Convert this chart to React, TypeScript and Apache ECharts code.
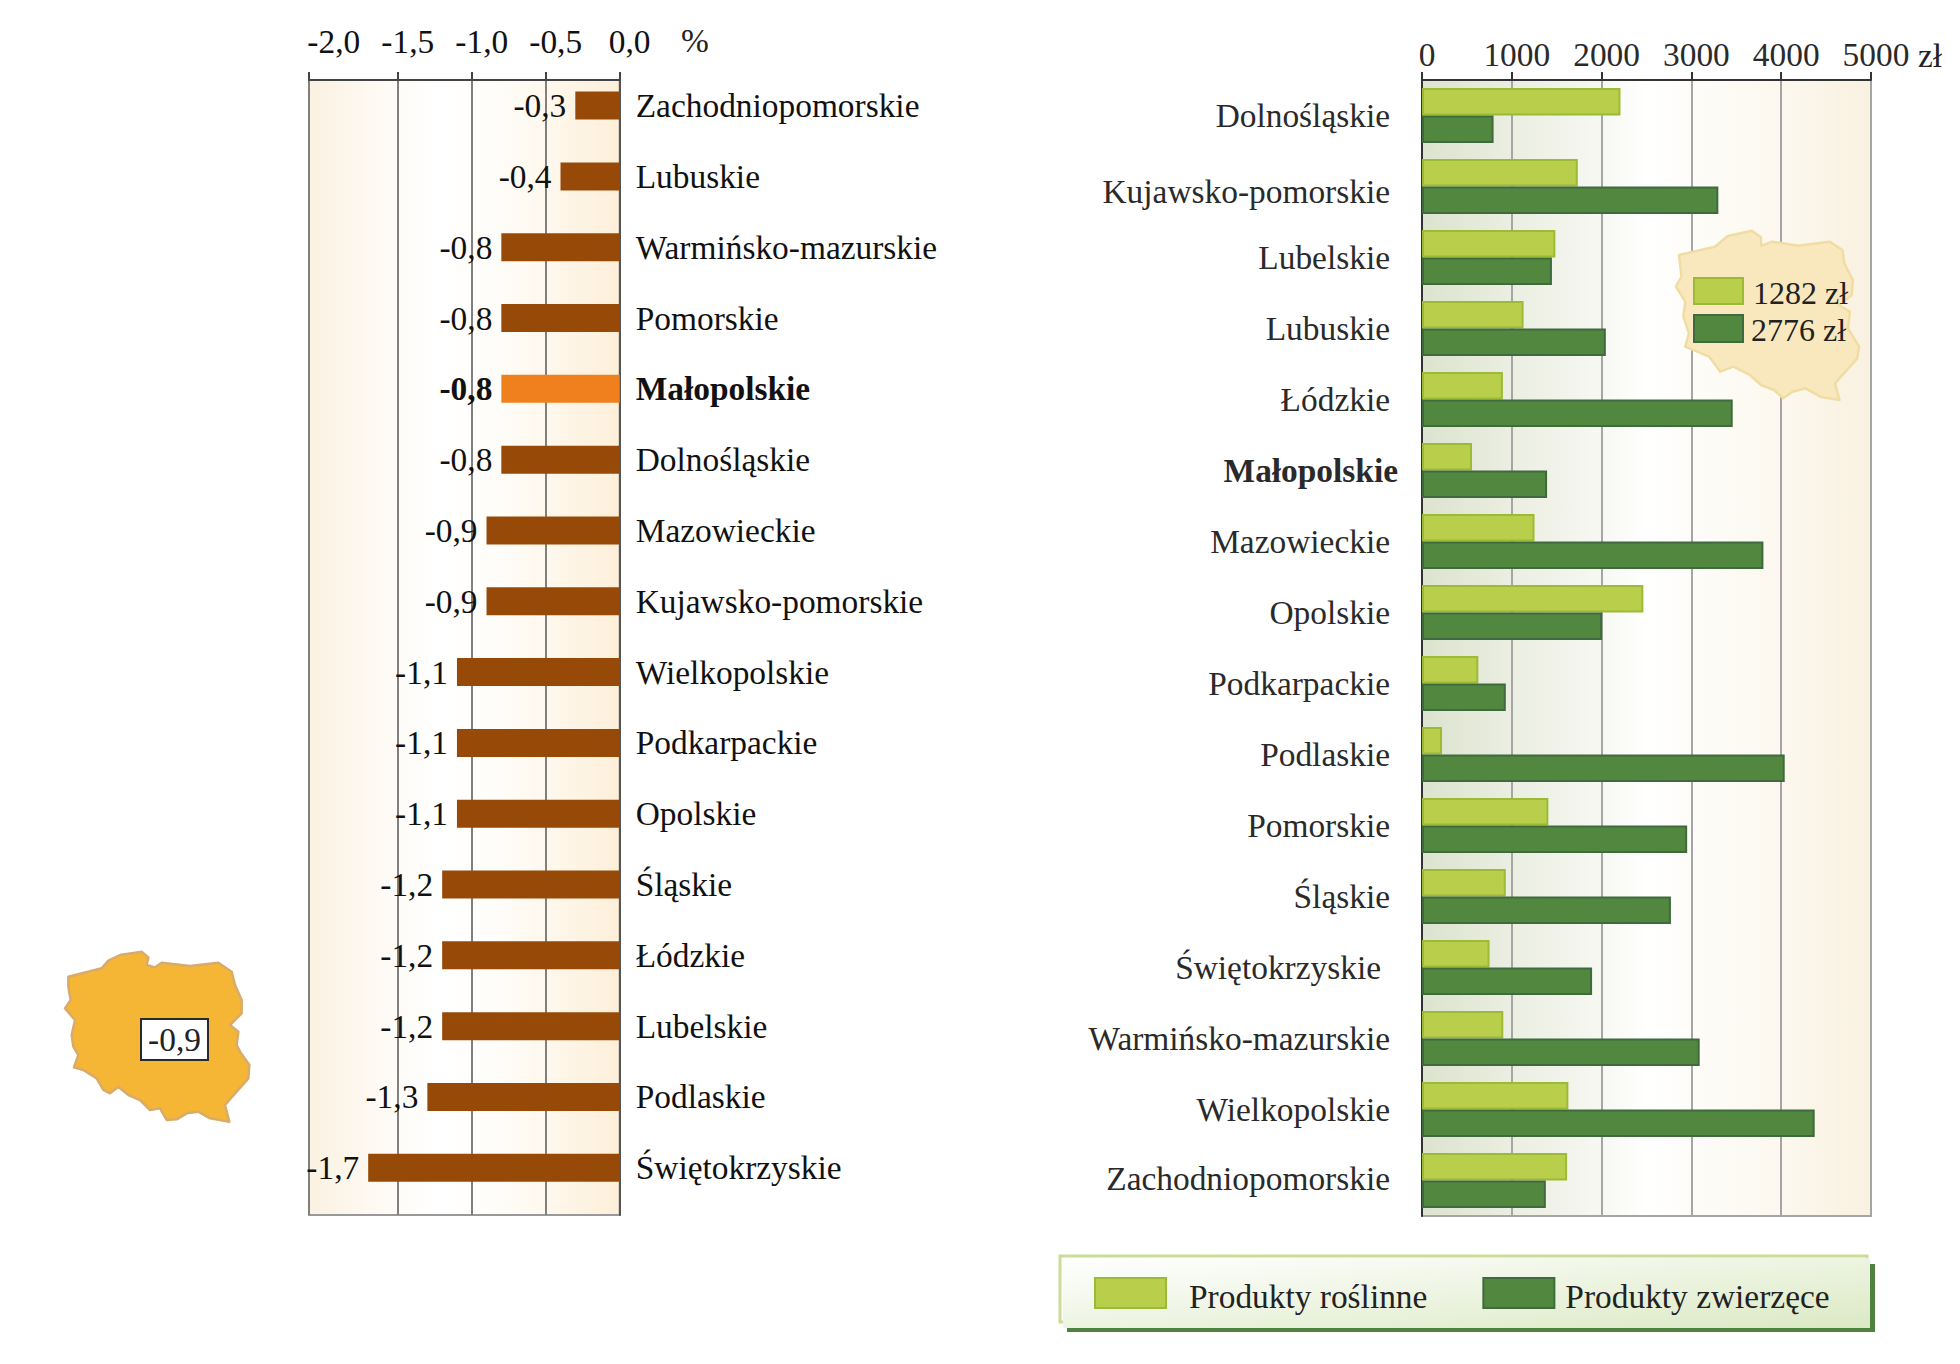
import React, { useEffect, useRef } from "react";
import * as echarts from "echarts";

const SERIF = "'Liberation Serif', 'Times New Roman', serif";

const changeRegions = ["Zachodniopomorskie","Lubuskie","Warmińsko-mazurskie","Pomorskie","Małopolskie","Dolnośląskie","Mazowieckie","Kujawsko-pomorskie","Wielkopolskie","Podkarpackie","Opolskie","Śląskie","Łódzkie","Lubelskie","Podlaskie","Świętokrzyskie"];
const changeValues = [-0.3,-0.4,-0.8,-0.8,-0.8,-0.8,-0.9,-0.9,-1.1,-1.1,-1.1,-1.2,-1.2,-1.2,-1.3,-1.7];
const changeTickLabels = [-2,-1.5,-1,-0.5,0];
const highlighted = "Małopolskie";

const valueRegions = ["Dolnośląskie","Kujawsko-pomorskie","Lubelskie","Lubuskie","Łódzkie","Małopolskie","Mazowieckie","Opolskie","Podkarpackie","Podlaskie","Pomorskie","Śląskie","Świętokrzyskie","Warmińsko-mazurskie","Wielkopolskie","Zachodniopomorskie"];
const plantProducts = [2210,1735,1485,1131,901,557,1253,2465,627,223,1407,933,752,905,1630,1616];
const animalProducts = [797,3300,1447,2047,3460,1393,3802,2006,933,4039,2953,2772,1894,3092,4373,1379];
const plantName = "Produkty roślinne";
const animalName = "Produkty zwierzęce";
const nationalPlant = "1282 zł";
const nationalAnimal = "2776 zł";
const nationalChange = "-0,9";

// traced outlines of the country (crop pixels of the reference)
const mapOutlineA = [[85,140],[185,115],[205,92],[240,75],[305,65],[325,82],[320,105],[345,112],[365,98],[450,108],[535,98],[575,125],[585,165],[605,210],[605,250],[570,285],[595,305],[590,345],[600,365],[628,405],[625,445],[590,485],[555,525],[568,575],[510,565],[475,545],[440,550],[410,568],[380,570],[360,535],[330,540],[300,510],[265,495],[235,470],[210,490],[190,480],[170,445],[130,420],[102,412],[115,375],[100,350],[95,315],[105,270],[75,235],[92,210],[85,170]];
const mapOutlineB = [[808,765],[905,740],[940,708],[1005,692],[1030,712],[1030,738],[1060,725],[1130,737],[1215,725],[1250,750],[1255,790],[1278,840],[1275,885],[1240,915],[1270,935],[1265,985],[1295,1040],[1290,1075],[1230,1150],[1242,1200],[1190,1190],[1150,1165],[1115,1175],[1090,1195],[1065,1170],[1030,1155],[1000,1125],[955,1100],[920,1115],[890,1070],[825,1040],[835,1000],[820,950],[825,905],[800,860],[815,830]];

const LIGHT = "#B9CF4C", LIGHT_B = "#9CBA36", DARK = "#528740", DARK_B = "#3F6A3D";
const FS = 33.4;
const comma = (v: number) => v.toFixed(1).replace(".", ",");

function txt(text: string, x: number, y: number, extra: any = {}) {
  return { type: "text", z: 30, silent: true, style: { text, x, y, fontFamily: SERIF, fontSize: FS, fill: "#222", textVerticalAlign: "middle", ...extra } };
}
function box(x: number, y: number, w: number, h: number, fill: any, stroke: any, z = 30, lineWidth = 2) {
  return { type: "rect", z, silent: true, shape: { x, y, width: w, height: h }, style: { fill, stroke, lineWidth } };
}

function valueLabel(v: string) {
  if (v === highlighted) return `{b|${v}}`;
  if (v === "Świętokrzyskie") return `{s|${v}}`;
  if (v === "Kujawsko-pomorskie") return `{k|${v}}`;
  if (v === "Zachodniopomorskie") return `{z|${v}}`;
  return `{n|${v}}`;
}

function buildOption() {
  const L = 309, LW = 310.7, XMIN = -2.1;
  const leftRange = { min: XMIN, max: 0 };
  const rl = { fontFamily: SERIF, fontSize: FS, color: "#2A2A2A" };
  return {
    animation: false,
    textStyle: { fontFamily: SERIF },
    legend: {
      z: 40, left: 1089, top: 1272, itemWidth: 71, itemHeight: 30, itemGap: 55, icon: "rect",
      data: [plantName, animalName],
      selectedMode: false,
      formatter: (n: string) => (n === plantName ? `{a|${n}}` : `{c|${n}}`),
      textStyle: { fontFamily: SERIF, fontSize: FS, color: "#222",
        rich: {
          a: { fontFamily: SERIF, fontSize: FS, color: "#222", padding: [7, 0, 0, 18] },
          c: { fontFamily: SERIF, fontSize: FS, color: "#222", padding: [7, 0, 0, 6] },
        } },
    },
    grid: [
      { left: L, top: 80, width: LW, height: 1135, show: true, borderColor: "#999", borderWidth: 2,
        backgroundColor: { type: "linear", x: 0, y: 0, x2: 1, y2: 0, colorStops: [{ offset: 0, color: "#FBF1E1" }, { offset: 0.25, color: "#FEFBF6" }, { offset: 0.42, color: "#FFFFFF" }, { offset: 0.62, color: "#FFFDF9" }, { offset: 1, color: "#FDEFD9" }] } },
      { left: L, top: 70.2, width: LW, height: 1133, show: false },
      { left: 1422, top: 80, width: 449, height: 1136, show: true, borderColor: "#A5A5A5", borderWidth: 2,
        backgroundColor: { type: "linear", x: 0, y: 0, x2: 1, y2: 0, colorStops: [{ offset: 0, color: "#DCE3CE" }, { offset: 0.2, color: "#EBEEE1" }, { offset: 0.4, color: "#F7F8F2" }, { offset: 0.5, color: "#FFFFFF" }, { offset: 0.62, color: "#FEFCF8" }, { offset: 0.8, color: "#FCF8EF" }, { offset: 1, color: "#F9F1E0" }] } },
    ],
    xAxis: [
      { gridIndex: 0, type: "value", position: "top", ...leftRange,
        axisLine: { show: true, onZero: false, lineStyle: { color: "#444", width: 2 } },
        axisTick: { show: true, length: 8, lineStyle: { color: "#444", width: 2 }, customValues: [XMIN, -1.5, -1, -0.5, 0] },
        splitLine: { show: true, lineStyle: { color: "#808080", width: 2 } },
        axisLabel: { show: true, customValues: changeTickLabels, margin: 22, padding: [0, 0, 0, 20], fontFamily: SERIF, fontSize: FS, color: "#111", formatter: (v: number) => comma(v), hideOverlap: false, showMinLabel: true, showMaxLabel: true } },
      { gridIndex: 1, type: "value", ...leftRange, show: false },
      { gridIndex: 2, type: "value", position: "top", min: 0, max: 5000, interval: 1000,
        axisLine: { show: true, onZero: false, lineStyle: { color: "#333", width: 2 } },
        axisTick: { show: true, length: 8, lineStyle: { color: "#333", width: 2 } },
        splitLine: { show: true, lineStyle: { color: "#A5A5A5", width: 2 } },
        axisLabel: { margin: 9, padding: [0, 0, 0, 10], fontFamily: SERIF, fontSize: FS, color: "#2A2A2A", formatter: (v: number) => String(v), showMinLabel: true, showMaxLabel: true } },
    ],
    yAxis: [
      { gridIndex: 0, type: "value", position: "right", min: 0, max: 1,
        axisLine: { show: true, onZero: false, lineStyle: { color: "#555", width: 2 } },
        axisTick: { show: false }, axisLabel: { show: false }, splitLine: { show: false } },
      { gridIndex: 1, type: "category", position: "right", inverse: true, data: changeRegions,
        axisLine: { show: false }, axisTick: { show: false },
        axisLabel: { interval: 0, margin: 16, align: "left", fontFamily: SERIF, fontSize: FS, color: "#111",
          formatter: (v: string) => (v === highlighted ? `{b|${v}}` : v),
          rich: { b: { fontFamily: SERIF, fontSize: FS, fontWeight: "bold", color: "#111" } } } },
      { gridIndex: 2, type: "category", inverse: true, data: valueRegions,
        axisLine: { show: true, onZero: false, lineStyle: { color: "#333", width: 2 } }, axisTick: { show: false },
        axisLabel: { interval: 0, margin: 24, align: "right", color: "#2A2A2A",
          formatter: valueLabel,
          rich: {
            n: { ...rl, padding: [0, 8, 0, 0] },
            s: { ...rl, padding: [0, 17, 0, 0] },
            k: { ...rl, padding: [10, 8, 0, 0] },
            z: { ...rl, padding: [0, 8, 5, 0] },
            b: { ...rl, fontWeight: "bold" },
          } } },
    ],
    series: [
      { type: "bar", name: "Zmiana", xAxisIndex: 1, yAxisIndex: 1, barWidth: 28,
        itemStyle: { color: "#974A07" },
        label: { show: true, position: "left", distance: 9, fontFamily: SERIF, fontSize: FS, color: "#111", formatter: (p: any) => comma(p.value) },
        data: changeValues.map((value, i) => changeRegions[i] === highlighted
          ? { value, itemStyle: { color: "#F0801E" }, label: { fontWeight: "bold" } }
          : value) },
      { type: "bar", name: plantName, xAxisIndex: 2, yAxisIndex: 2, barWidth: 27.5, barGap: "0%", data: plantProducts,
        itemStyle: { color: LIGHT, borderColor: LIGHT_B, borderWidth: 2 } },
      { type: "bar", name: animalName, xAxisIndex: 2, yAxisIndex: 2, barWidth: 27.5, data: animalProducts,
        itemStyle: { color: DARK, borderColor: DARK_B, borderWidth: 2 } },
    ],
    graphic: { elements: [
      txt("%", 681, 40),
      txt("zł", 1918, 55),
      // orange map
      { type: "polygon", z: 10, silent: true, shape: { points: mapOutlineA.map(([x, y]) => [40 + x / 3, 930 + y / 3]) }, style: { fill: "#F5B635", stroke: "#D9AB6B", lineWidth: 2.5, lineJoin: "round" } },
      box(141, 1019, 67, 41, "#FFFFFF", "#2A2A2A"),
      txt(nationalChange, 174.5, 1039, { textAlign: "center", z: 31 }),
      // cream map
      { type: "polygon", z: 10, silent: true, shape: { points: mapOutlineB.map(([x, y]) => [1380 + x / 2.703, y / 3]) }, style: { fill: "#F9E8BD", stroke: "#F0DDA3", lineWidth: 2.5, lineJoin: "round" } },
      box(1694, 278, 49, 26, LIGHT, LIGHT_B),
      box(1694, 315, 49, 27, DARK, DARK_B),
      txt(nationalPlant, 1753, 293, { fontSize: 32 }),
      txt(nationalAnimal, 1751, 330, { fontSize: 32 }),
      // bottom legend panel
      box(1060, 1256, 807, 66, "#FFFFFF", "#CBDC98", 1, 3),
      box(1067, 1264, 808, 68, "#4F8240", "none", 2, 0),
      box(1063, 1258, 807, 70, { type: "linear", x: 0, y: 0, x2: 1, y2: 1, colorStops: [{ offset: 0, color: "#FFFFFF" }, { offset: 1, color: "#DBE9C4" }] }, "none", 3, 0),
    ] },
  };
}

export default function App() {
  const ref = useRef<HTMLDivElement>(null);
  useEffect(() => {
    const chart = echarts.init(ref.current!, undefined, { renderer: "svg" });
    chart.setOption(buildOption() as any);
    return () => chart.dispose();
  }, []);
  return <div ref={ref} style={{ position: "absolute", left: 0, top: 0, width: 1960, height: 1364, background: "#fff" }} />;
}
